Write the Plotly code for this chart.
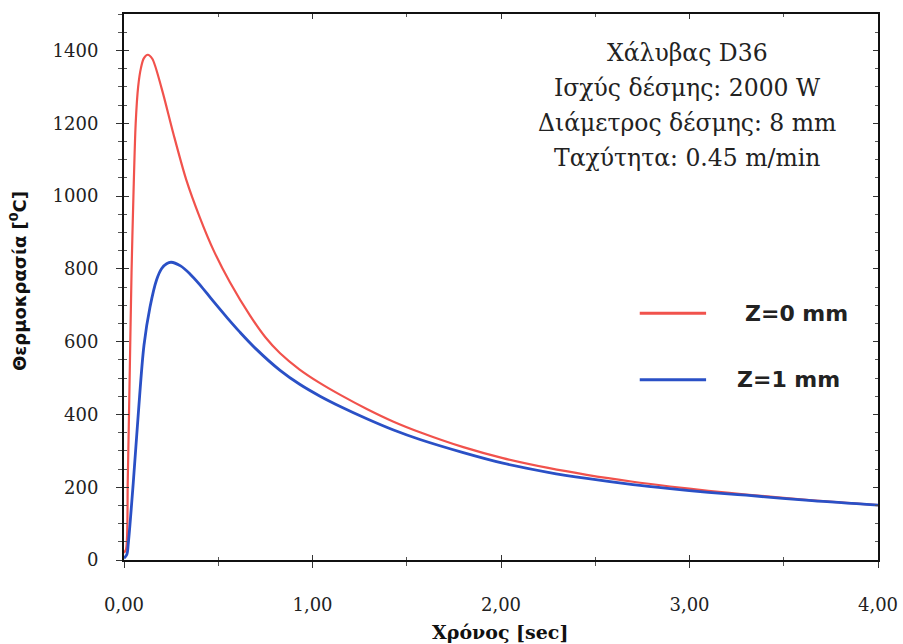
import plotly.graph_objects as go

# Thermal cycle at the surface (Z=0) and 1 mm below (Z=1)
time_z0 = [0.0, 0.011, 0.02, 0.03, 0.04, 0.05, 0.062, 0.075, 0.09, 0.105, 0.126, 0.15,
           0.2, 0.262, 0.33, 0.403, 0.474, 0.562, 0.668, 0.75, 0.828, 0.93, 1.04,
           1.15, 1.288, 1.43, 1.57, 1.8, 2.01, 2.25, 2.455, 2.7, 2.897, 3.1, 3.3,
           3.65, 4.0]
temp_z0 = [20, 30, 220, 500, 790, 1000, 1200, 1300, 1352, 1378, 1388, 1377,
           1295, 1171, 1045, 940, 852, 763, 672, 612, 568, 524, 486,
           453, 415, 380, 351, 310, 280, 253, 234, 215, 202, 190, 180,
           164, 151]

time_z1 = [0.0, 0.015, 0.023, 0.049, 0.076, 0.106, 0.138, 0.173, 0.2, 0.226, 0.25,
           0.30, 0.35, 0.403, 0.47, 0.55, 0.615, 0.7, 0.828, 0.934, 1.04, 1.15,
           1.288, 1.43, 1.57, 1.8, 2.01, 2.25, 2.455, 2.7, 2.897, 3.1, 3.3,
           3.65, 4.0]
temp_z1 = [5, 15, 47, 211, 403, 590, 695, 770, 801, 814, 818,
           808, 786, 756, 713, 664, 626, 580, 521, 482, 450, 421,
           388, 357, 331, 295, 266, 241, 224, 207, 196, 186, 178,
           163, 151]

series_labels = ["Z=0 mm", "Z=1 mm"]
series_colors = ["#f1524c", "#2a50c6"]

x_tick_vals = [0, 1, 2, 3, 4]
x_tick_text = ["0,00", "1,00", "2,00", "3,00", "4,00"]
y_tick_vals = [0, 200, 400, 600, 800, 1000, 1200, 1400]

info_lines = ["Χάλυβας D36", "Ισχύς δέσμης: 2000 W",
              "Διάμετρος δέσμης: 8 mm", "Ταχύτητα: 0.45 m/min"]

x_title = "Χρόνος [sec]"
y_title = "Θερμοκρασία [<sup>0</sup>C]"

fig = go.Figure()
fig.add_trace(go.Scatter(x=time_z0, y=temp_z0, mode="lines", name=series_labels[0],
                         line=dict(color=series_colors[0], width=2.2, shape="spline",
                                   smoothing=0.8),
                         xaxis="x", yaxis="y", showlegend=False))
fig.add_trace(go.Scatter(x=time_z1, y=temp_z1, mode="lines", name=series_labels[1],
                         line=dict(color=series_colors[1], width=2.8, shape="spline",
                                   smoothing=0.9),
                         xaxis="x2", yaxis="y2", showlegend=False))

tick_font = dict(family="DejaVu Serif", size=18, color="#222")

fig.update_layout(
    width=903, height=644,
    margin=dict(l=124, r=25, t=14, b=84, autoexpand=False),
    paper_bgcolor="white", plot_bgcolor="white",
    xaxis=dict(range=[0, 4], tickvals=x_tick_vals, ticktext=x_tick_text,
               ticks="outside", ticklen=6, tickwidth=1.2, tickcolor="#333",
               minor=dict(dtick=0.5, ticks="outside", ticklen=4, tickcolor="#555"),
               showline=True, linecolor="#111", linewidth=2, mirror=True,
               showgrid=False, zeroline=False, tickfont=tick_font,
               ticklabelstandoff=21, automargin=False),
    yaxis=dict(range=[0, 1500], tickvals=y_tick_vals,
               ticks="outside", ticklen=6, tickwidth=1.2, tickcolor="#333",
               minor=dict(dtick=50, ticks="outside", ticklen=4, tickcolor="#555"),
               showline=True, linecolor="#111", linewidth=2, mirror=True,
               showgrid=False, zeroline=False, tickfont=tick_font,
               ticklabelstandoff=14, automargin=False),
    xaxis2=dict(range=[0, 4], overlaying="x", anchor="y2", tickvals=x_tick_vals,
                ticks="inside", ticklen=5, tickcolor="#333", mirror="ticks",
                minor=dict(dtick=0.5, ticks="inside", ticklen=3, tickcolor="#555"),
                showticklabels=False, showgrid=False, zeroline=False, showline=False,
                automargin=False),
    yaxis2=dict(range=[0, 1500], overlaying="y", anchor="x2", tickvals=y_tick_vals,
                ticks="inside", ticklen=5, tickcolor="#333", mirror="ticks",
                minor=dict(dtick=50, ticks="inside", ticklen=3, tickcolor="#555"),
                showticklabels=False, showgrid=False, zeroline=False, showline=False,
                automargin=False),
)

# Axis titles
fig.add_annotation(text=x_title, xref="paper", yref="paper", x=0.4987, y=-0.132,
                   showarrow=False, xanchor="center", yanchor="middle",
                   font=dict(family="DejaVu Serif", size=19, color="#111", weight="bold"))
fig.add_annotation(text=y_title, xref="paper", yref="paper", x=-0.1406, y=0.511,
                   showarrow=False, textangle=-90, xanchor="center", yanchor="middle",
                   font=dict(family="DejaVu Sans", size=18, color="#111", weight="bold"))

# Process parameters block
info_y = [0.9285, 0.8645, 0.8005, 0.7365]
for line, yy in zip(info_lines, info_y):
    fig.add_annotation(text=line, xref="paper", yref="paper", x=0.7467, y=yy,
                       showarrow=False, xanchor="center", yanchor="middle",
                       font=dict(family="DejaVu Serif", size=23.5, color="#222"))

# Legend: sample lines with labels
legend_y = [0.452, 0.330]
legend_text_x = [0.821, 0.810]
for label, color, yy, tx in zip(series_labels, series_colors, legend_y, legend_text_x):
    fig.add_shape(type="line", xref="paper", yref="paper", x0=0.684, x1=0.772,
                  y0=yy, y1=yy, line=dict(color=color, width=3))
    fig.add_annotation(text=label, xref="paper", yref="paper", x=tx, y=yy,
                       showarrow=False, xanchor="left", yanchor="middle",
                       font=dict(family="DejaVu Sans", size=22, color="#222",
                                 weight="bold"))

fig.write_html("out.html")
